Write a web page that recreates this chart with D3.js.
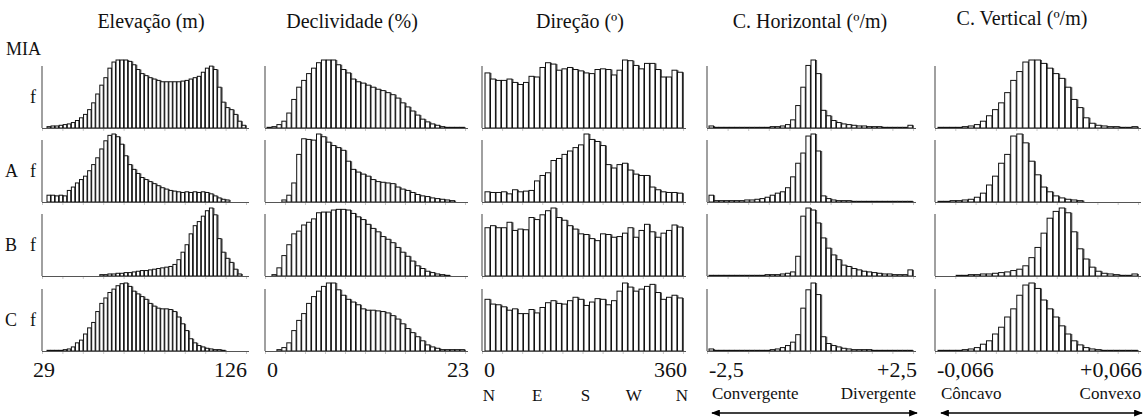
<!DOCTYPE html>
<html>
<head>
<meta charset="utf-8">
<script src="https://cdn.jsdelivr.net/npm/d3@7"></script>
<style>
  body { margin: 0; background: #fff; }
  svg text { font-family: "Liberation Serif", "Times New Roman", serif; fill: #111; }
</style>
</head>
<body>
<svg id="svg_hist" width="1148" height="418"></svg>
<script>
// titles and labels
var titles = ["Elevação (m)", "Declividade (%)", "Direção (º)", "C. Horizontal (º/m)", "C. Vertical (º/m)"];
var rowNames = ["MIA", "A", "B", "C"];
var minLabels = ["29", "0", "0", "-2,5", "-0,066"];
var maxLabels = ["126", "23", "360", "+2,5", "+0,066"];
var compass = ["N", "E", "S", "W", "N"];
var chEnds = ["Convergente", "Divergente"];
var cvEnds = ["Côncavo", "Convexo"];

// relative frequencies (0-100)
var elevMIA = [2,3,3,4,5,6,8,11,15,20,27,37,50,63,74,88,97,100,100,100,98,93,86,80,77,74,72,70,68,68,68,68,68,69,70,72,74,76,82,88,91,86,60,38,30,27,20,10,4];
var elevA = [10,10,9,10,9,17,22,28,33,38,46,55,65,78,90,98,100,96,85,68,55,48,42,36,33,30,27,24,21,19,17,16,15,14,15,14,15,14,15,14,12,9,6,4,3,0,0,0,0];
var elevB = [0,0,0,0,0,0,0,0,0,0,0,0,0,2,2,3,3,4,4,5,5,6,7,8,8,9,10,11,12,13,14,17,24,35,46,62,74,80,88,96,100,90,55,35,26,20,10,3,0];
var elevC = [1,1,1,1,2,3,6,12,16,25,34,42,58,70,78,86,91,96,99,100,95,88,84,80,76,70,66,63,62,62,61,58,50,40,30,18,12,8,6,4,3,2,2,1,0,0,0,0,0];

var declMIA = [1,2,5,10,22,42,60,70,80,88,96,100,100,100,93,86,81,72,68,66,63,60,57,55,52,49,44,37,31,25,19,13,9,6,4,2,1,1,1,1];
var declA = [0,0,0,3,10,28,70,93,92,91,100,96,88,83,80,76,60,48,44,41,38,33,30,29,28,27,22,19,17,14,11,9,8,6,5,4,3,2,0,0];
var declB = [0,2,12,30,46,62,66,75,79,84,93,94,94,97,98,98,97,92,87,83,76,70,65,58,54,49,42,35,29,22,15,11,7,5,3,2,1,0,0,0];
var declC = [0,0,2,5,12,30,45,55,70,80,88,95,100,100,90,82,76,72,68,62,60,60,59,58,56,52,47,40,33,27,21,15,9,6,4,2,2,2,2,2];

var dirMIA = [81,72,70,70,72,67,64,67,76,75,89,96,94,85,87,89,86,84,81,80,86,87,86,78,85,100,99,92,87,95,95,86,75,75,85,82];
var dirA = [15,14,14,15,12,18,15,16,17,31,39,43,61,64,70,75,80,84,100,92,89,83,55,50,55,57,47,41,39,39,22,18,15,14,14,13];
var dirB = [71,74,71,71,79,67,69,68,86,83,90,96,100,86,82,74,69,62,61,55,52,62,61,57,58,63,71,57,67,76,65,57,63,67,75,72];
var dirC = [76,69,68,65,60,62,55,55,61,56,64,71,74,70,69,74,79,76,67,72,77,76,68,74,88,100,94,88,91,95,98,86,76,79,82,78];

var chMIA = [3,1,1,1,1,1,1,1,1,1,1,1,2,2,3,5,12,33,60,92,100,80,26,18,11,8,6,5,4,3,3,2,2,2,1,1,1,1,1,4];
var chA = [10,2,2,2,2,2,2,3,3,4,5,7,10,13,15,21,37,57,72,97,100,75,9,5,3,2,2,2,1,1,1,1,1,1,1,1,1,1,1,1];
var chB = [1,1,1,1,1,1,1,1,1,1,1,2,2,2,3,4,6,29,88,100,97,78,56,41,31,24,16,14,11,9,7,6,5,4,3,3,2,2,2,9];
var chC = [3,1,1,1,1,1,1,1,1,1,1,1,2,3,5,8,13,24,63,90,100,83,21,11,8,6,4,3,2,2,2,2,1,1,1,1,1,1,1,1];

var cvMIA = [1,1,1,1,2,3,5,10,18,27,37,52,70,83,97,100,100,95,88,80,73,60,42,30,15,7,4,3,2,2,1,1,2];
var cvA = [1,1,2,2,3,4,7,13,25,38,57,70,97,100,87,60,40,22,15,9,6,4,3,2,0,0,0,0,0,0,0,0,0];
var cvB = [0,0,0,1,1,2,2,3,3,4,5,6,8,10,15,27,42,63,85,95,100,93,65,40,25,13,7,4,3,2,1,1,3];
var cvC = [1,1,1,1,2,3,5,10,15,25,35,50,62,82,97,100,92,75,62,50,37,25,15,9,5,3,2,1,1,1,1,1,1];

// layout
var svg = d3.select("#svg_hist");
var rowBase = [128, 202, 276, 351],
    barMax = 68,
    axisLen = 62;

var cols = [
  {axisX: 42,  x0: 47,  x1: 246,  titleX: 151,  data: [elevMIA, elevA, elevB, elevC]},
  {axisX: 265, x0: 267, x1: 465,  titleX: 352,  data: [declMIA, declA, declB, declC]},
  {axisX: 482, x0: 485, x1: 683,  titleX: 580,  data: [dirMIA, dirA, dirB, dirC]},
  {axisX: 707, x0: 709, x1: 913,  titleX: 810,  data: [chMIA, chA, chB, chC]},
  {axisX: 935, x0: 938, x1: 1138, titleX: 1022, data: [cvMIA, cvA, cvB, cvC]}
];

// arrow head marker
svg.append("defs").append("marker")
    .attr("id", "arrowhead")
    .attr("viewBox", "0 0 10 8")
    .attr("refX", 9)
    .attr("refY", 4)
    .attr("markerWidth", 9)
    .attr("markerHeight", 7)
    .attr("markerUnits", "userSpaceOnUse")
    .attr("orient", "auto-start-reverse")
  .append("path")
    .attr("d", "M0,0 L10,4 L0,8 Z")
    .attr("fill", "#000");

cols.forEach(function(col, c){
  // column title
  svg.append("text")
      .attr("x", col.titleX)
      .attr("y", c == 4 ? 25 : 28)
      .attr("text-anchor", "middle")
      .attr("font-size", 20)
      .text(titles[c]);

  rowBase.forEach(function(base, r){
    var vals = col.data[r];
    var x = d3.scaleBand()
        .domain(d3.range(vals.length))
        .range([col.x0, col.x1]);
    var y = d3.scaleLinear()
        .domain([0, 100])
        .range([base, base - barMax]);
    var g = svg.append("g");

    // faint ticks under the baseline
    var tx = d3.scaleLinear().domain([0, 10]).range([col.axisX, col.x1]);
    g.append("g")
        .attr("transform", "translate(0," + base + ")")
        .call(d3.axisBottom(tx).ticks(10).tickSize(3).tickFormat(""))
        .call(function(a){ a.select(".domain").remove(); })
        .selectAll("line").attr("stroke", "#c8c8c8");

    // shadow on right edge of each bar
    g.selectAll(".shadow")
        .data(vals)
      .enter().append("rect")
        .attr("class", "shadow")
        .attr("x", function(d, i){ return x(i) + x.bandwidth() - 0.6; })
        .attr("y", function(d){ return y(d); })
        .attr("width", 1.6)
        .attr("height", function(d){ return base - y(d); })
        .attr("fill", "#5a5a5a");

    g.selectAll(".bar")
        .data(vals)
      .enter().append("rect")
        .attr("class", "bar")
        .attr("x", function(d, i){ return x(i); })
        .attr("y", function(d){ return y(d); })
        .attr("width", x.bandwidth() - 0.6)
        .attr("height", function(d){ return base - y(d); })
        .attr("fill", "#fff")
        .attr("stroke", "#111")
        .attr("stroke-width", 1);

    // baseline and vertical axis
    g.append("line")
        .attr("x1", col.axisX).attr("x2", col.x1 + 3)
        .attr("y1", base + 0.5).attr("y2", base + 0.5)
        .attr("stroke", "#555")
        .attr("stroke-width", 1.2);
    g.append("line")
        .attr("x1", col.axisX).attr("x2", col.axisX)
        .attr("y1", base - axisLen).attr("y2", base)
        .attr("stroke", "#808080")
        .attr("stroke-width", 1.5);
  });

  // range labels
  svg.append("text")
      .attr("x", col.axisX + (c == 0 ? -9 : 2))
      .attr("y", 377)
      .attr("font-size", 22)
      .text(minLabels[c]);
  svg.append("text")
      .attr("x", col.x1 + (c == 0 ? 1 : 4))
      .attr("y", 377)
      .attr("text-anchor", "end")
      .attr("font-size", 22)
      .text(maxLabels[c]);
});

// row labels
svg.append("text").attr("x", 6).attr("y", 55).attr("font-size", 18).text(rowNames[0]);
rowBase.forEach(function(base, r){
  if (r > 0) {
    svg.append("text").attr("x", 5).attr("y", base - 25).attr("font-size", 18).text(rowNames[r]);
  }
  svg.append("text").attr("x", 30).attr("y", base - 25).attr("font-size", 18).text("f");
});

// compass under direction
var cx = d3.scalePoint().domain(d3.range(compass.length)).range([489, 682]);
svg.selectAll(".compass")
    .data(compass)
  .enter().append("text")
    .attr("x", function(d, i){ return cx(i); })
    .attr("y", 401)
    .attr("text-anchor", "middle")
    .attr("font-size", 17)
    .text(function(d){ return d; });

// curvature end labels + arrows
[[cols[3], chEnds], [cols[4], cvEnds]].forEach(function(p){
  var col = p[0];
  svg.append("text").attr("x", col.x0 + 3).attr("y", 399).attr("font-size", 17).text(p[1][0]);
  svg.append("text").attr("x", col.x1 + 3).attr("y", 399).attr("text-anchor", "end").attr("font-size", 17).text(p[1][1]);
  svg.append("line")
      .attr("x1", col.x0 + 3).attr("x2", col.x1 + 4)
      .attr("y1", 413).attr("y2", 413)
      .attr("stroke", "#000")
      .attr("stroke-width", 1.3)
      .attr("marker-start", "url(#arrowhead)")
      .attr("marker-end", "url(#arrowhead)");
});
</script>
</body>
</html>
